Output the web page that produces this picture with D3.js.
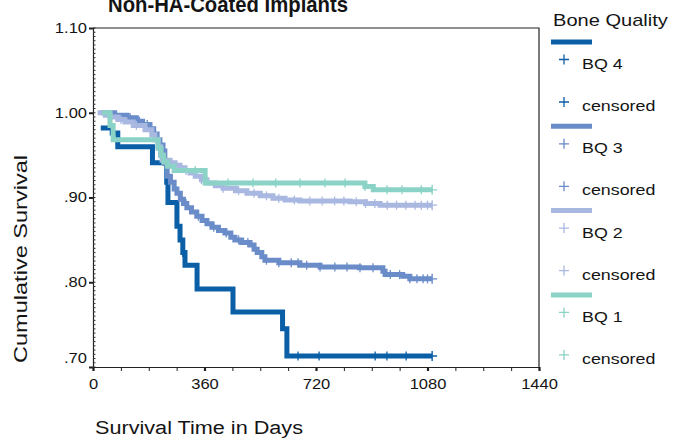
<!DOCTYPE html>
<html><head><meta charset="utf-8">
<script src="https://cdn.jsdelivr.net/npm/d3@7/dist/d3.min.js"></script>
<style>
body{margin:0;background:#fff}
text{font-family:"Liberation Sans",Arial,Helvetica,sans-serif;fill:#141414}
</style>
</head><body>
<svg id="chart" width="675" height="445"></svg>
<script>
// ---------- data ----------
const chartTitle = "Non-HA-Coated Implants";
const xTickValues = [0, 360, 720, 1080, 1440];
const yTickValues = [0.70, 0.80, 0.90, 1.00, 1.10];
const yTickLabels = [".70", ".80", ".90", "1.00", "1.10"];
const legendTitle = "Bone Quality";
const seriesNames = ["BQ 4", "BQ 3", "BQ 2", "BQ 1"];
const seriesColors = ["#0b5fa6", "#6a8cc9", "#a9b8e0", "#8bd3c6"];

// step points: [day, cumulative survival from that day on]
const bq4Steps = [[25,0.982],[62,0.976],[80,0.960],[192,0.941],[238,0.918],[242,0.894],[271,0.866],[281,0.850],[290,0.835],[297,0.820],[336,0.792],[452,0.765],[612,0.745],[626,0.713],[1095,0.713]];
const bq3Steps = [[25,1.000],[70,0.997],[110,0.994],[140,0.990],[160,0.986],[184,0.981],[196,0.975],[207,0.968],[216,0.962],[226,0.955],[232,0.940],[239,0.925],[250,0.918],[262,0.910],[271,0.905],[282,0.898],[292,0.893],[303,0.888],[318,0.883],[335,0.878],[352,0.873],[368,0.869],[384,0.865],[405,0.861],[426,0.858],[445,0.853],[458,0.850],[480,0.847],[507,0.844],[520,0.839],[530,0.835],[545,0.830],[555,0.826],[600,0.823],[668,0.820],[733,0.818],[860,0.817],[936,0.813],[943,0.809],[1000,0.807],[1023,0.804],[1095,0.804]];
const bq2Steps = [[15,1.000],[40,0.997],[55,0.995],[80,0.992],[103,0.989],[130,0.985],[168,0.980],[190,0.974],[200,0.968],[210,0.960],[218,0.950],[223,0.944],[249,0.941],[265,0.938],[281,0.935],[297,0.932],[313,0.929],[330,0.925],[350,0.921],[368,0.917],[395,0.914],[420,0.911],[460,0.908],[497,0.905],[540,0.902],[581,0.899],[620,0.897],[668,0.896],[830,0.895],[880,0.893],[927,0.891],[1095,0.891]];
const bq1Steps = [[30,1.000],[55,0.985],[65,0.968],[210,0.958],[220,0.950],[228,0.942],[240,0.937],[262,0.932],[362,0.917],[878,0.913],[905,0.909],[1095,0.909]];

// censored times (days)
const bq4Censored = [290, 662, 730, 911, 949, 1011];
const bq3Censored = [120, 150, 175, 300, 340, 390, 430, 470, 500, 560, 600, 640, 662, 690, 733, 781, 820, 862, 904, 960, 990, 1023, 1046, 1066, 1080];
const bq2Censored = [90, 140, 300, 350, 420, 470, 520, 560, 600, 650, 700, 740, 780, 810, 850, 880, 910, 950, 980, 1010, 1040, 1060, 1080];
const bq1Censored = [330, 436, 517, 590, 668, 749, 814, 878, 949, 998, 1060];

const allSteps = [bq4Steps, bq3Steps, bq2Steps, bq1Steps];
const allCensored = [bq4Censored, bq3Censored, bq2Censored, bq1Censored];

// ---------- layout ----------
const svg = d3.select("#chart");
const L = 93, R = 539, T = 28, B = 367;
const x = d3.scaleLinear().domain([0, 1440]).range([L, R]);
const y = d3.scaleLinear().domain([0.70, 1.10]).range([B, T]);

function widen(sel, k) {
  sel.each(function () {
    const w = this.getComputedTextLength();
    d3.select(this).attr("textLength", w * k).attr("lengthAdjust", "spacingAndGlyphs");
  });
}

// title (partly cut off at top, as in the source)
svg.append("text").attr("x", 108).attr("y", 12)
  .attr("font-size", 22).attr("font-weight", "bold")
  .attr("textLength", 240).attr("lengthAdjust", "spacingAndGlyphs")
  .text(chartTitle);

// frame
svg.append("path").attr("d", `M${L},${T}H${R}V${B}`).attr("fill", "none")
  .attr("stroke", "#222").attr("stroke-width", 1.2);

// x axis
const xAxis = d3.axisBottom(x).tickValues(d3.range(0, 1441, 90))
  .tickSize(4).tickFormat(d => xTickValues.includes(d) ? d : "");
const gx = svg.append("g").attr("transform", `translate(0,${B})`).call(xAxis);
gx.select(".domain").attr("stroke", "#222").attr("stroke-width", 1.2);
gx.selectAll(".tick line").attr("stroke", "#222")
  .attr("stroke-width", d => xTickValues.includes(d) ? 2.2 : 1);
gx.selectAll(".tick text").attr("font-size", 14).attr("dy", "1.05em")
  .attr("font-family", '"Liberation Sans",Arial,sans-serif').attr("fill", "#141414");
widen(gx.selectAll(".tick text"), 1.18);

// y axis
const yAxis = d3.axisLeft(y).tickValues(yTickValues).tickSize(4)
  .tickFormat((d, i) => yTickLabels[i]);
const gy = svg.append("g").attr("transform", `translate(${L},0)`).call(yAxis);
gy.select(".domain").attr("stroke", "#222").attr("stroke-width", 1.2);
gy.selectAll(".tick line").attr("stroke", "#222").attr("stroke-width", 2);
gy.selectAll(".tick text").attr("font-size", 14).attr("x", -6)
  .attr("font-family", '"Liberation Sans",Arial,sans-serif').attr("fill", "#141414")
  .attr("dy", (d) => d === 0.70 ? "-0.35em" : "0.32em");
widen(gy.selectAll(".tick text"), 1.18);
// minor inner ticks
const minorY = d3.range(0.70, 1.1001, 0.005);
svg.append("g").selectAll("line").data(minorY).join("line")
  .attr("x1", L).attr("x2", L + 2.5).attr("y1", d => y(d)).attr("y2", d => y(d))
  .attr("stroke", "#333").attr("stroke-width", 1);

// axis titles
svg.append("text").attr("transform", `translate(27,${(152 + 366) / 2}) rotate(-90)`)
  .attr("text-anchor", "middle").attr("font-size", 18)
  .attr("textLength", 208).attr("lengthAdjust", "spacingAndGlyphs")
  .text("Cumulative Survival");
svg.append("text").attr("x", 95).attr("y", 434).attr("font-size", 18)
  .attr("textLength", 208).attr("lengthAdjust", "spacingAndGlyphs")
  .text("Survival Time in Days");

// curves
const line = d3.line().x(d => x(d[0])).y(d => y(d[1])).curve(d3.curveStepAfter);
function survAt(steps, t) {
  let v = steps[0][1];
  for (const s of steps) { if (s[0] <= t) v = s[1]; }
  return v;
}
const plot = svg.append("g");
allSteps.forEach((steps, i) => {
  const g = plot.append("g");
  const col = seriesColors[i];
  g.append("path").attr("d", line(steps)).attr("fill", "none")
    .attr("stroke", col).attr("stroke-width", 5);
  g.selectAll("line.c").data(allCensored[i]).join("line").attr("class", "c")
    .attr("x1", d => x(d)).attr("x2", d => x(d))
    .attr("y1", d => y(survAt(steps, d)) - 4.5).attr("y2", d => y(survAt(steps, d)) + 4.5)
    .attr("stroke", col).attr("stroke-width", 1.3);
  const last = steps[steps.length - 1];
  g.append("path")
    .attr("d", `M${x(last[0]) - 4},${y(last[1])}H${x(last[0]) + 5}M${x(last[0])},${y(last[1]) - 5}V${y(last[1]) + 5}`)
    .attr("stroke", col).attr("stroke-width", 1.4).attr("fill", "none");
});

// legend
const lg = svg.append("g");
lg.append("text").attr("x", 553).attr("y", 26).attr("font-size", 17).text(legendTitle);
widen(lg.selectAll("text"), 1.18);
seriesNames.forEach((name, i) => {
  const y0 = 42 + i * 84.3;
  const col = seriesColors[i];
  lg.append("line").attr("x1", 551).attr("x2", 592).attr("y1", y0).attr("y2", y0)
    .attr("stroke", col).attr("stroke-width", 5);
  [[17.5, 27, name], [60, 69, "censored"]].forEach(([py, ty, label]) => {
    lg.append("path").attr("d", `M559,${y0 + py}H569M564,${y0 + py - 5}V${y0 + py + 5}`)
      .attr("stroke", col).attr("stroke-width", 1.3);
    const t = lg.append("text").attr("x", 582).attr("y", y0 + ty).attr("font-size", 15.5).text(label);
    widen(t, 1.15);
  });
});
</script>
</body></html>
